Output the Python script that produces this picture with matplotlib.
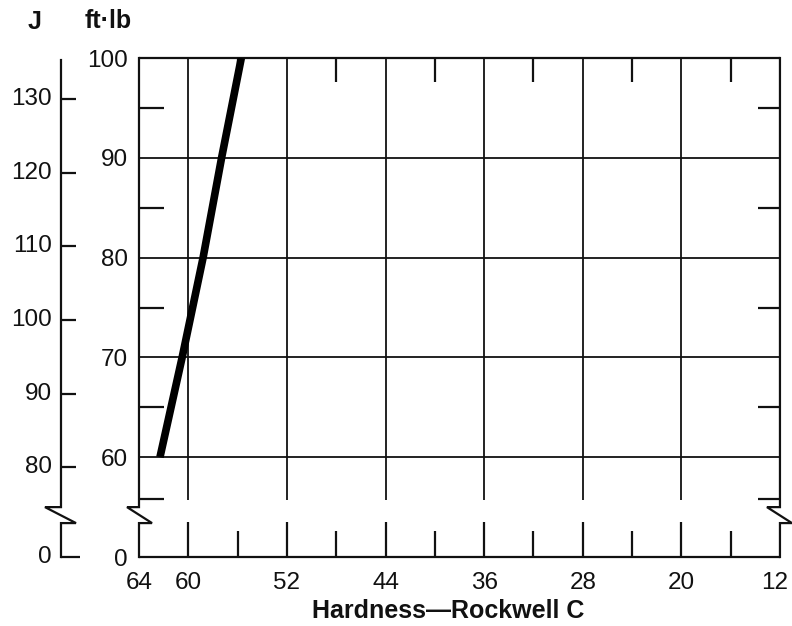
import numpy as np
import matplotlib.pyplot as plt
from matplotlib.transforms import offset_copy

plt.rcParams['font.family'] = ['Liberation Sans', 'DejaVu Sans']

# curve: impact energy (ft-lb) against hardness (HRC)
hardness = [62.3, 60.5, 58.8, 57.3, 55.7]
energy_ftlb = [60, 70, 80, 90, 100]

x_ticks = [64, 60, 52, 44, 36, 28, 20, 12]
x_grid = [60, 52, 44, 36, 28, 20]
x_minor = [56, 48, 40, 32, 24, 16]
y_ticks = [50, 60, 70, 80, 90, 100]
y_labels = ['0', '60', '70', '80', '90', '100']
y_grid = [60, 70, 80, 90]
y_minor = [65, 75, 85, 95, 55.8]
j_ticks = [80, 90, 100, 110, 120, 130]
FTLB_TO_J = 1.3558

# broken part of the vertical scale (data units of the ft-lb axis)
BREAK_HI = 55.0
BREAK_LO = 53.4
LW = 1.6
INK = '#111111'
TICK_FS = 17.5

fig = plt.figure(figsize=(7.92, 6.26), dpi=100)
ax = fig.add_axes([0.1755, 0.1102, 0.8093, 0.7971])
ax.set_xlim(64, 12)
ax.set_ylim(50, 100)
for s in ax.spines.values():
    s.set_visible(False)
yt = ax.get_yaxis_transform()


def broken_spine(x0, dl, dr, top=100):
    xs = [x0, x0, x0 + dl, x0 + dr, x0, x0]
    ys = [top, BREAK_HI, BREAK_HI, BREAK_LO, BREAK_LO, 50]
    ax.plot(xs, ys, color=INK, lw=LW, transform=yt, clip_on=False,
            solid_joinstyle='miter')


# frame
ax.hlines(100, 64, 12, color=INK, lw=LW, clip_on=False)
ax.hlines(50, 64, 12, color=INK, lw=LW, clip_on=False)
broken_spine(0, -0.0187, 0.0203)
broken_spine(1, -0.0203, 0.0187)

# grid
ax.hlines(y_grid, 64, 12, color=INK, lw=1.3)
ax.vlines(x_grid, 55.7, 100, color=INK, lw=1.3)

# short ticks
ax.vlines(x_minor, 97.6, 100, color=INK, lw=LW)
ax.vlines(x_grid, 50, 53.5, color=INK, lw=LW)
ax.vlines(x_minor, 50, 52.6, color=INK, lw=LW)
ax.hlines(y_minor, 0, 0.039, color=INK, lw=LW, transform=yt)
ax.hlines(y_minor, 1 - 0.034, 1, color=INK, lw=LW, transform=yt)

# tick labels (the last one, at the figure edge, is nudged inwards)
ax.set_xticks(x_ticks, [str(v) for v in x_ticks[:-1]] + [''])
ax.set_yticks(y_ticks, y_labels)
ax.tick_params(axis='both', length=0, labelsize=TICK_FS, colors=INK)
ax.tick_params(axis='y', pad=8)
ax.tick_params(axis='x', pad=11)
edge_tr = offset_copy(ax.get_xaxis_transform(), fig=fig, x=-4, y=-11,
                      units='points')
ax.text(x_ticks[-1], 0, str(x_ticks[-1]), transform=edge_tr, ha='center',
        va='top', fontsize=TICK_FS, color=INK)

# joule scale on the far left
jx = -0.1217
broken_spine(jx, -0.025, 0.0234, top=99.8)
j_pos = [j / FTLB_TO_J for j in j_ticks]
ax.hlines(j_pos, jx, jx + 0.0234, color=INK, lw=LW, transform=yt, clip_on=False)
ax.hlines(50, jx, jx + 0.029, color=INK, lw=LW, transform=yt, clip_on=False)
for j, y in zip(j_ticks + [0], j_pos + [50]):
    ax.text(-0.1357, y, str(j), transform=yt, ha='right', va='center',
            fontsize=TICK_FS, color=INK)

# data curve
ax.plot(hardness, energy_ftlb, color='black', lw=5.5, solid_capstyle='butt')

fig.text(35 / 792, 1 - 22 / 626, 'J', fontsize=18, fontweight='bold',
         ha='center', va='center', color=INK)
fig.text(108 / 792, 1 - 21 / 626, 'ft·lb', fontsize=18, fontweight='bold',
         ha='center', va='center', color=INK)
fig.text(448 / 792, 1 - 611 / 626, 'Hardness\u2014Rockwell C', fontsize=18,
         fontweight='bold', ha='center', va='center', color=INK)

fig.savefig('out.png', dpi=100)
